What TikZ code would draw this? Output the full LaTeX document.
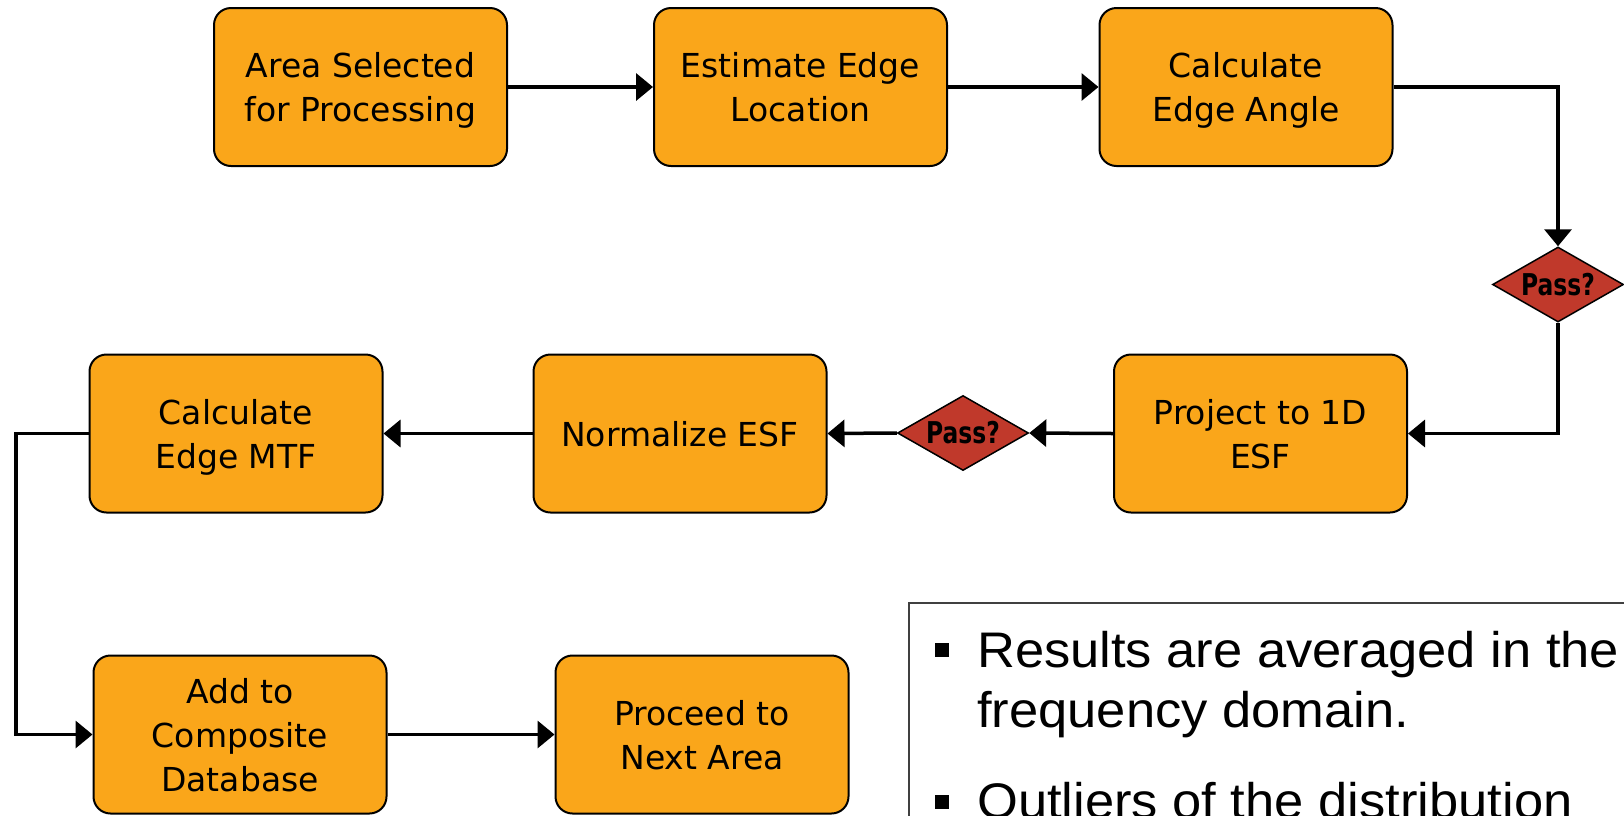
\documentclass[tikz,border=0pt]{standalone}
\usepackage{fontspec}
\setmainfont{DejaVu Sans}
\newfontfamily\passfont{DejaVu Sans}[FakeStretch=0.78]
\newfontfamily\notefont{Liberation Sans}[FakeStretch=1.05]
\usetikzlibrary{shapes.geometric,arrows.meta}
\definecolor{boxorange}{RGB}{250,166,26}
\definecolor{passred}{RGB}{192,57,43}
\tikzset{
 stepbox/.style={draw=black, line width=2pt, fill=boxorange, rounded corners=17pt,
   minimum width=293pt, minimum height=158pt, align=center, inner sep=0pt,
   text depth=0pt, font=\fontsize{33pt}{44pt}\selectfont},
 passdia/.style={diamond, draw=black, line width=1.5pt, fill=passred,
   minimum width=131pt, minimum height=75pt, inner sep=0pt, shape aspect=1.75,
   font=\passfont\bfseries\fontsize{30pt}{36pt}\selectfont},
 flow/.style={line width=3.5pt, -{Triangle[length=17pt,width=27pt]}},
 notetext/.style={anchor=base west, inner sep=0pt,
   font=\notefont\fontsize{50pt}{60pt}\selectfont},
}
\begin{document}
\begin{tikzpicture}[x=1pt,y=-1pt]
\clip (0,0) rectangle (1624,815);
\fill[white] (0,0) rectangle (1624,815);

% row 1
\node[stepbox] (b1) at (360.5,87) {Area Selected\\for Processing};
\node[stepbox] (b2) at (800.5,87) {Estimate Edge\\Location};
\node[stepbox] (b3) at (1246,87) {Calculate\\Edge Angle};
% decisions
\node[passdia] (d1) at (1558,284.5) {Pass?};
\node[passdia] (d2) at (963,433) {Pass?};
% row 2
\node[stepbox] (b4) at (1260.5,433.5) {Project to 1D\\ESF};
\node[stepbox] (b5) at (680,433.5) {Normalize ESF};
\node[stepbox] (b6) at (236,433.5) {Calculate\\Edge MTF};
% row 3
\node[stepbox] (b7) at (240,734.5) {Add to\\Composite\\Database};
\node[stepbox] (b8) at (702,734.5) {Proceed to\\Next Area};

\coordinate (L) at (16,433.5);

% connectors
\draw[flow] (b1.east) -- (b2.west);
\draw[flow] (b2.east) -- (b3.west);
\draw[flow] (b3.east) -| (d1.north);
\draw[flow] (d1.south) |- (b4.east);
\draw[flow] (b4.west) -- (d2.east);
\draw[flow] (d2.west) -- (b5.east);
\draw[flow] (b5.west) -- (b6.east);
\draw[flow] (b6.west) -- (L) |- (b7.west);
\draw[flow] (b7.east) -- (b8.west);

% note box
\draw[line width=2pt, draw=black!75] (909,603) rectangle (1700,900);
\fill (935,643) rectangle (949,657);
\fill (935,795) rectangle (949,809);
\node[notetext] (n1) at (977,667) {Results are averaged in the};
\node[notetext] (n2) at (977,727) {frequency domain.};
\node[notetext] (n3) at (977,818) {Outliers of the distribution};
\end{tikzpicture}
\end{document}
